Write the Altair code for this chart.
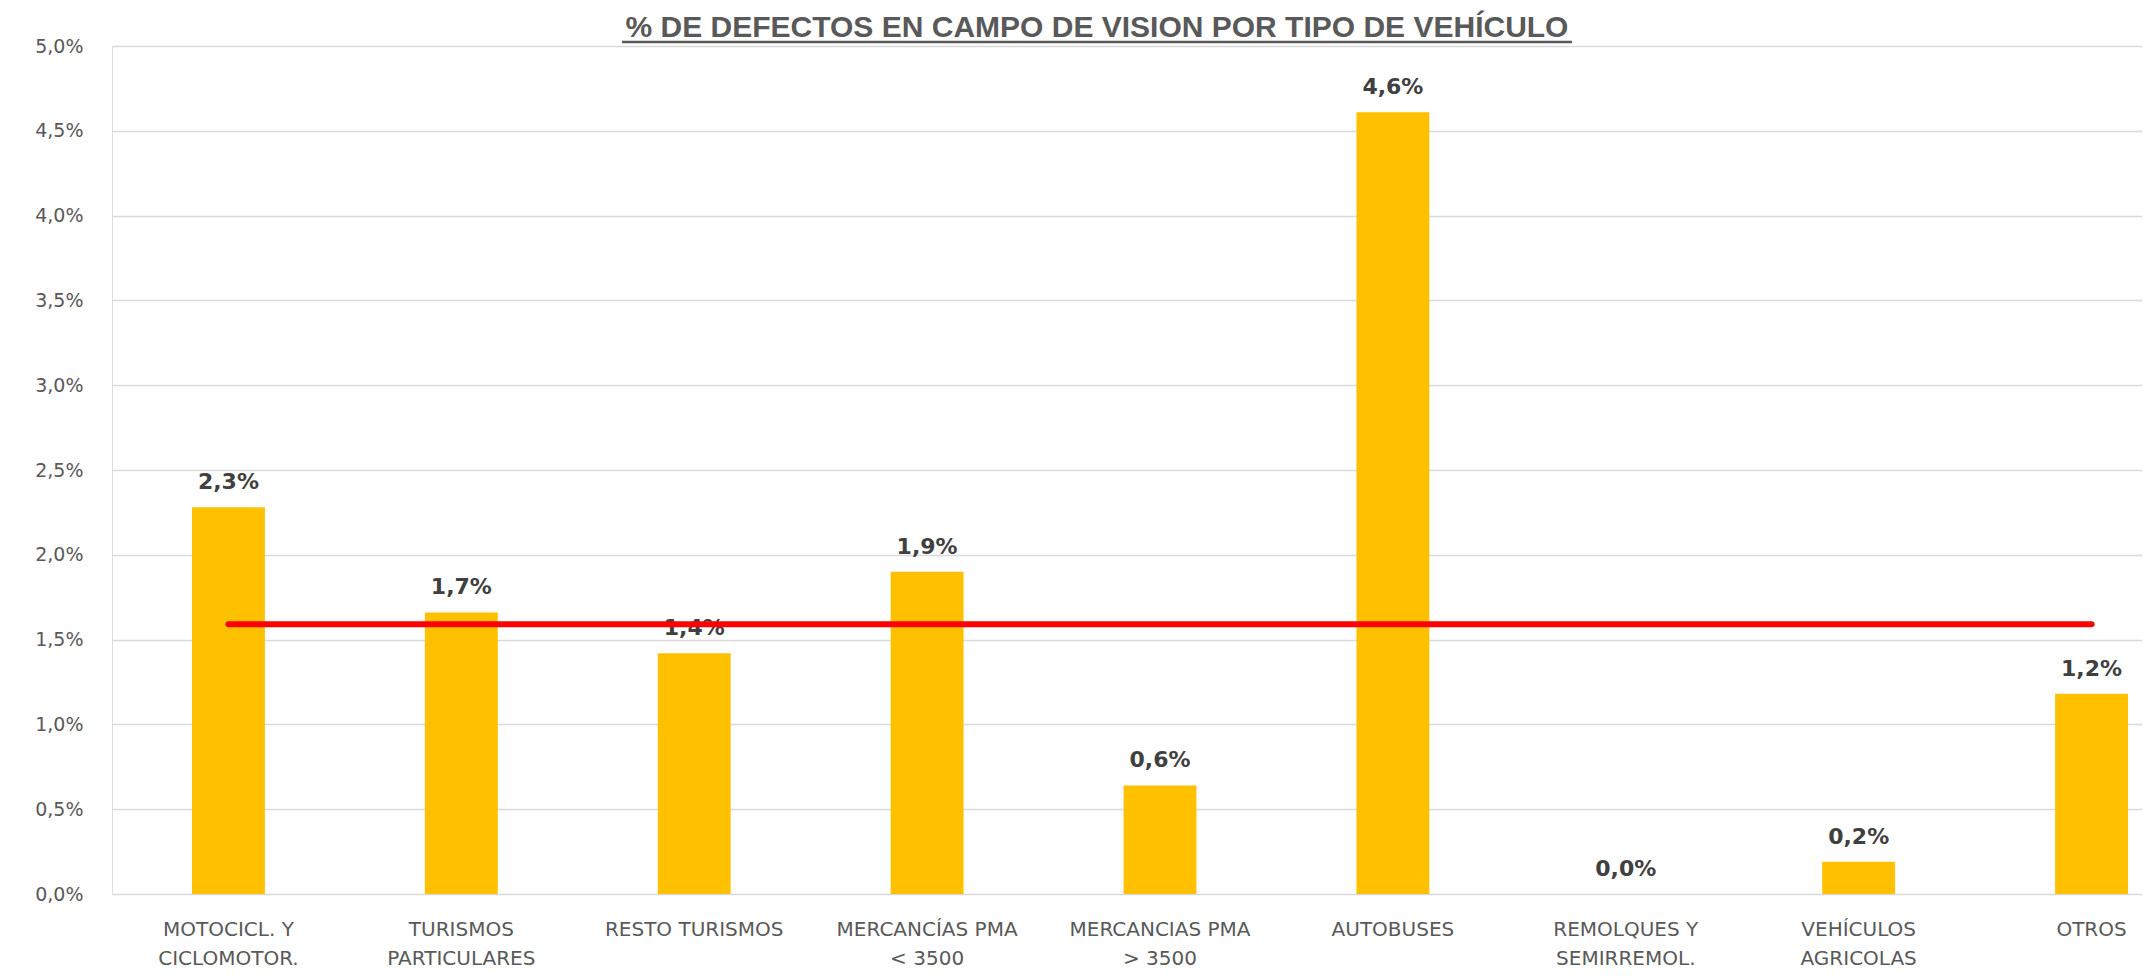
import altair as alt
import pandas as pd

# ---- data ----
categories = [
    "MOTOCICL. Y\nCICLOMOTOR.",
    "TURISMOS\nPARTICULARES",
    "RESTO TURISMOS",
    "MERCANCÍAS PMA\n< 3500",
    "MERCANCIAS PMA\n> 3500",
    "AUTOBUSES",
    "REMOLQUES Y\nSEMIRREMOL.",
    "VEHÍCULOS\nAGRICOLAS",
    "OTROS",
]
values = [2.28, 1.66, 1.42, 1.90, 0.64, 4.61, 0.0, 0.19, 1.18]
average = 1.59
y_ticks = [0.0, 0.5, 1.0, 1.5, 2.0, 2.5, 3.0, 3.5, 4.0, 4.5, 5.0]
title_text = "% DE DEFECTOS EN CAMPO DE VISION  POR TIPO DE VEHÍCULO"

df = pd.DataFrame({"category": categories, "value": values})
df["avg"] = average

BAR = "#FFC000"
AXIS_TXT = "#595959"

x_enc = alt.X(
    "category:N",
    sort=categories,
    scale=alt.Scale(range=[0, 2096], paddingInner=0.687, paddingOuter=0.3435),
    axis=alt.Axis(
        title=None,
        labelExpr="split(datum.label, '\\n')",
        labelAngle=0,
        labelBaseline="top",
        labelPadding=25,
        labelLineHeight=29,
        labelFont="DejaVu Sans",
        labelFontSize=20,
        labelColor=AXIS_TXT,
        labelOverlap=False,
        labelLimit=500,
        ticks=False,
        tickSize=0,
        domain=False,
        grid=False,
    ),
)

y_scale = alt.Scale(domain=[0, 5], nice=False)

bars = alt.Chart(df).mark_bar(color=BAR).encode(
    x=x_enc,
    y=alt.Y(
        "value:Q",
        scale=y_scale,
        axis=alt.Axis(
            title=None,
            values=y_ticks,
            labelExpr="replace(format(datum.value, '.1f'), '.', ',') + '%'",
            labelFont="DejaVu Sans",
            labelFontSize=19,
            labelColor=AXIS_TXT,
            labelPadding=29,
            ticks=False,
            domain=False,
            grid=True,
            gridColor="#d9d9d9",
            gridWidth=1.5,
        ),
    ),
)

labels = alt.Chart(df).transform_calculate(
    label="replace(format(datum.value, '.1f'), '.', ',') + '%'"
).mark_text(
    baseline="alphabetic",
    dy=-18,
    font="DejaVu Sans",
    fontSize=22,
    fontWeight="bold",
    color="#404040",
).encode(
    x=alt.X("category:N", sort=categories),
    y=alt.Y("value:Q"),
    text="label:N",
)

avg_line = alt.Chart(df).mark_line(
    color="#FF0000", strokeWidth=6, strokeCap="round"
).encode(
    x=alt.X("category:N", sort=categories),
    y=alt.Y("avg:Q"),
)

title_mark = alt.Chart(alt.Data(values=[{"t": title_text}])).mark_text(
    font="Liberation Sans",
    fontSize=30,
    fontWeight="bold",
    color=AXIS_TXT,
    align="center",
    baseline="alphabetic",
).encode(
    x=alt.value(985), y=alt.value(-9), text="t:N"
)

underline = alt.Chart(alt.Data(values=[{}])).mark_rule(
    color=AXIS_TXT, strokeWidth=2.5
).encode(
    x=alt.value(510), x2=alt.value(1460), y=alt.value(-4)
)

chart = alt.layer(bars, labels, avg_line, title_mark, underline).properties(
    width=2030,
    height=848,
    autosize=alt.AutoSizeParams(type="none"),
    padding={"left": 104, "top": 38, "right": 0, "bottom": 76},
).configure_view(stroke=None).configure(background="white")

chart.save("out.html", embed_options={"renderer": "svg", "actions": False})
